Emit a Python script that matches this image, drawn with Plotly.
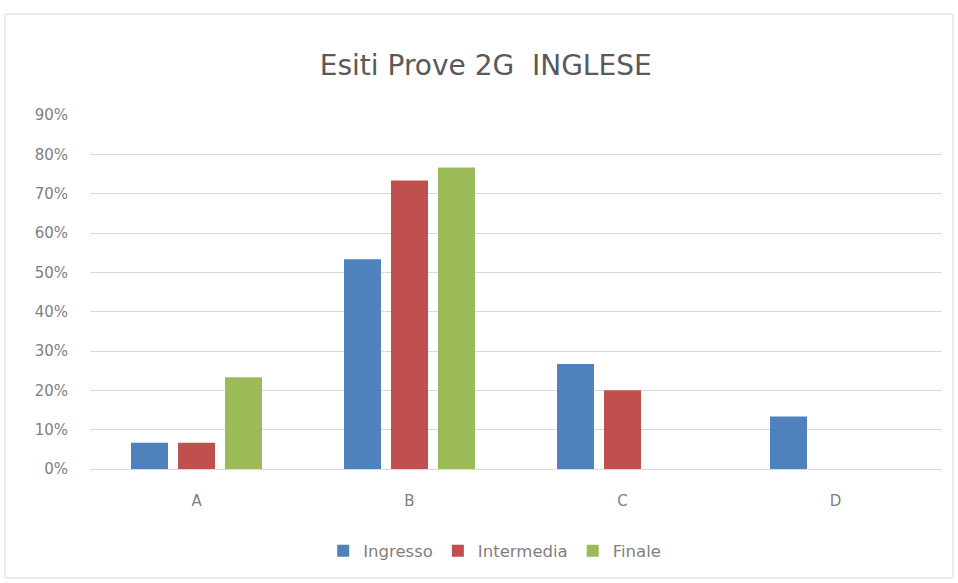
import plotly.graph_objects as go

categories = ["A", "B", "C", "D"]
ingresso = [0.0667, 0.5333, 0.2667, 0.1333]
intermedia = [0.0667, 0.7333, 0.20, 0.0]
finale = [0.2333, 0.7667, 0.0, 0.0]
tick_vals = [0, 0.1, 0.2, 0.3, 0.4, 0.5, 0.6, 0.7, 0.8, 0.9]
tick_text = ["0%", "10%", "20%", "30%", "40%", "50%", "60%", "70%", "80%", "90%"]

colors = {"Ingresso": "#4F81BD", "Intermedia": "#C0504D", "Finale": "#9BBB59"}

fig = go.Figure()
for name, vals in [("Ingresso", ingresso), ("Intermedia", intermedia), ("Finale", finale)]:
    fig.add_trace(go.Bar(x=categories, y=vals, name=name, marker_color=colors[name],
                         marker_line_width=0))

font_family = "DejaVu Sans, sans-serif"
text_grey = "#7F7F7F"
fig.update_layout(
    width=958, height=583,
    margin=dict(l=90, r=16, t=115, b=114),
    paper_bgcolor="white", plot_bgcolor="white",
    barmode="group", bargap=0.338, bargroupgap=0.213,
    title=dict(text="Esiti Prove 2G  INGLESE", x=0.507, xanchor="center",
               y=0.889, yanchor="middle", yref="container",
               font=dict(family=font_family, size=28, color="#595959")),
    font=dict(family=font_family, color=text_grey, size=15),
    legend=dict(orientation="h", x=0.475, xanchor="center", y=-0.232, yanchor="middle",
                font=dict(size=16.5, color=text_grey), itemwidth=30, traceorder="normal"),
    showlegend=True,
)
fig.update_yaxes(range=[0, 0.9], tickvals=tick_vals, ticktext=tick_text,
                 showgrid=True, gridcolor="#D9D9D9", gridwidth=1, zeroline=False,
                 showline=False, ticks="", tickfont=dict(size=15, color=text_grey),
                 ticklabelstandoff=21)
fig.update_xaxes(showline=True, linecolor="#D9D9D9", linewidth=1, ticks="",
                 tickfont=dict(size=15, color=text_grey), ticklabelstandoff=18)

fig.add_shape(type="rect", xref="paper", yref="paper",
              x0=-0.0998, x1=1.0129, y0=-0.308, y1=1.285,
              line=dict(color="#D9D9D9", width=1), fillcolor="rgba(0,0,0,0)", layer="below")

fig.write_html("out.html", config={"displayModeBar": False},
               post_script="document.body.style.margin='0';document.body.style.overflow='hidden';")
